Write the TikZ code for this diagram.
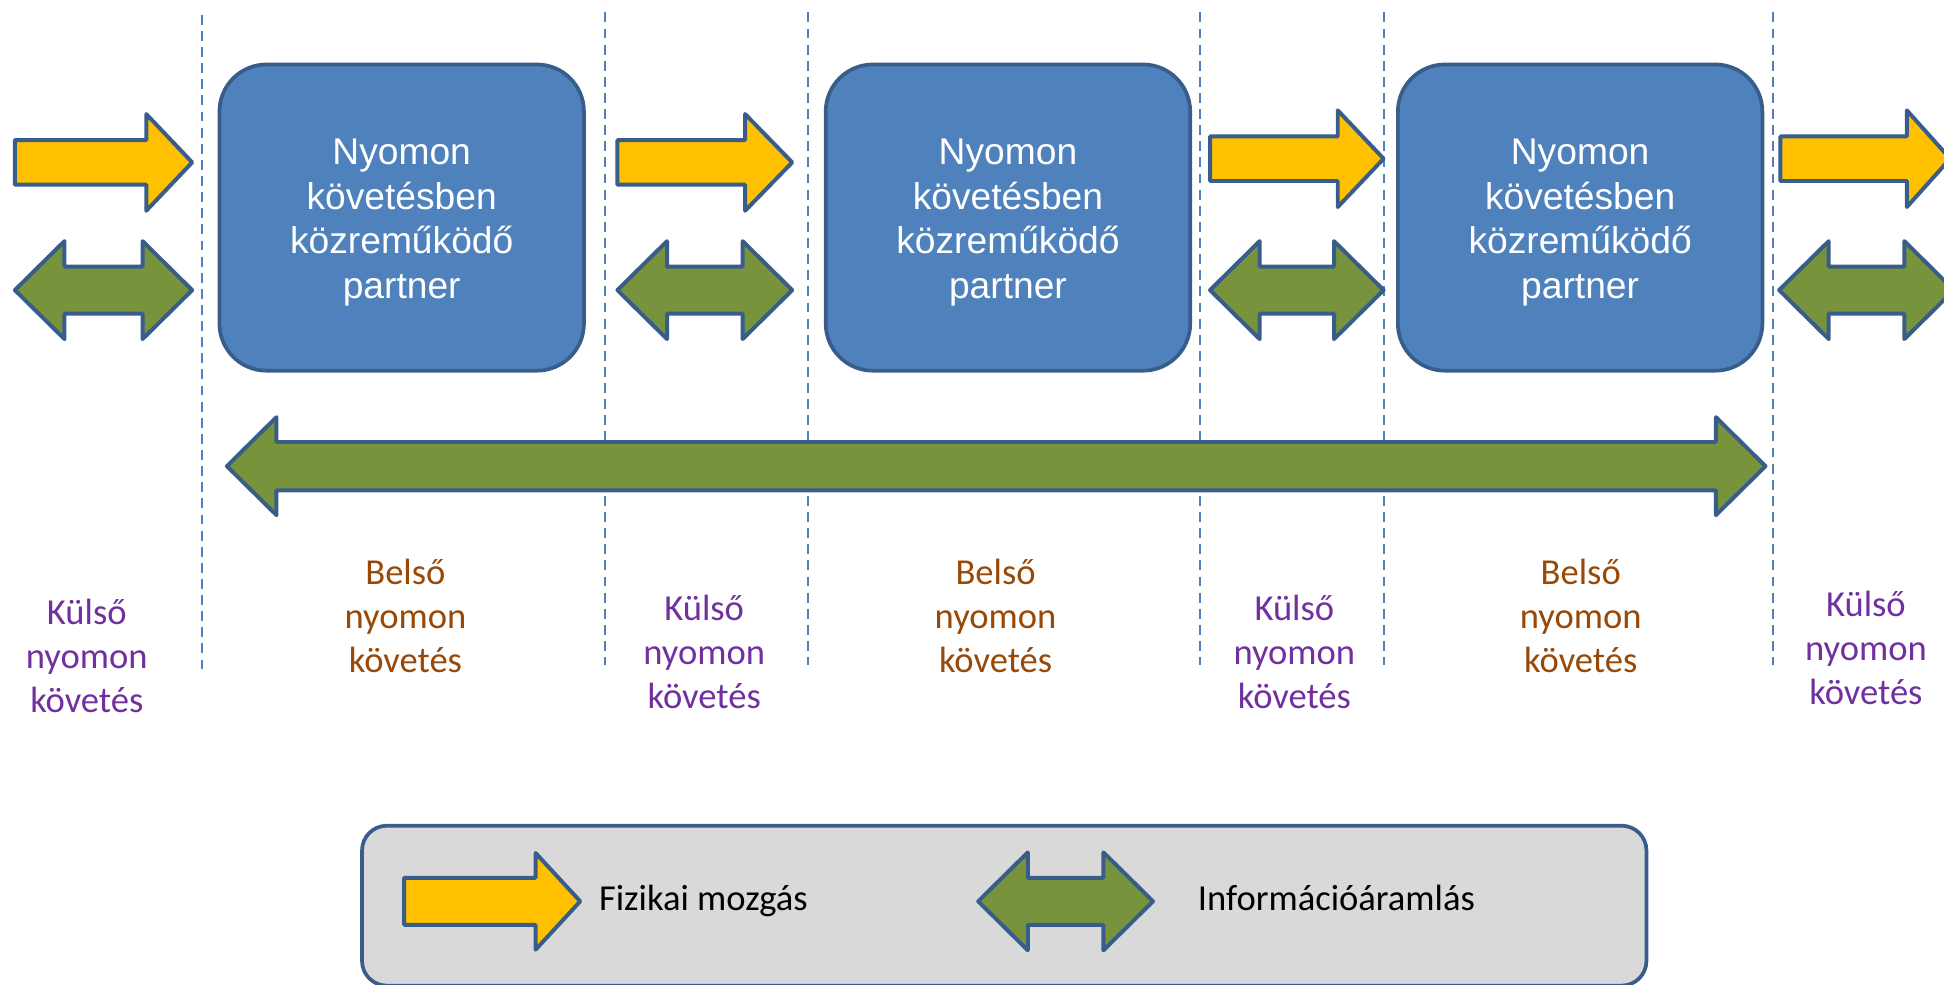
\documentclass[tikz,border=0pt]{standalone}
\usepackage{fontspec}
\setmainfont{Liberation Sans}
\newfontfamily\labelfont{Carlito}
\definecolor{boxblue}{HTML}{4F81BD}
\definecolor{edgeblue}{HTML}{385D8A}
\definecolor{moveyellow}{HTML}{FFC000}
\definecolor{infogreen}{HTML}{77933C}
\definecolor{extpurple}{HTML}{7030A0}
\definecolor{intbrown}{HTML}{984807}
\definecolor{legendgray}{HTML}{D9D9D9}

% block arrow pointing right: left x, tip x, centre y, head length, body half height
\newcommand{\movearrow}[5]{%
  \draw[blockarrow, fill=moveyellow]
    ({#1},{#3-#5}) -- ({#2-#4},{#3-#5}) -- ({#2-#4},{#3-39}) -- ({#2},{#3})
    -- ({#2-#4},{#3+39}) -- ({#2-#4},{#3+#5}) -- ({#1},{#3+#5}) -- cycle;}
% block arrow with two heads: left tip x, right tip x, centre y, head length, body half height
\newcommand{\infoarrow}[5]{%
  \draw[blockarrow, fill=infogreen]
    ({#1},{#3}) -- ({#1+#4},{#3-39.5}) -- ({#1+#4},{#3-#5}) -- ({#2-#4},{#3-#5})
    -- ({#2-#4},{#3-39.5}) -- ({#2},{#3}) -- ({#2-#4},{#3+39.5}) -- ({#2-#4},{#3+#5})
    -- ({#1+#4},{#3+#5}) -- ({#1+#4},{#3+39.5}) -- cycle;}

\tikzset{
  blockarrow/.style={draw=edgeblue, line width=3.2pt, line join=round},
  divider/.style={draw=boxblue, line width=1.6pt, dash pattern=on 8pt off 5pt},
  partner/.style={draw=edgeblue, fill=boxblue, line width=3pt, rounded corners=38pt,
    minimum width=294pt, minimum height=247pt, inner sep=0pt},
  partnertext/.style={text=white, align=center, inner sep=0pt,
    font=\fontsize{30}{36}\selectfont},
  extlabel/.style={align=center, text=extpurple, inner sep=0pt,
    font=\labelfont\fontsize{29.5}{35.5}\selectfont},
  intlabel/.style={align=center, text=intbrown, inner sep=0pt,
    font=\labelfont\fontsize{29.5}{35.5}\selectfont},
  legendtext/.style={anchor=west, inner sep=0pt, text=black,
    font=\labelfont\fontsize{29.5}{35.5}\selectfont},
}

\begin{document}
\begin{tikzpicture}[x=1pt, y=-1pt]
\useasboundingbox (0,0) rectangle (1568,794);
\clip (0,0) rectangle (1568,794);

% dashed section dividers
\draw[divider] (163,12) -- (163,543);
\foreach \xx in {488,652,968,1116,1430}
  \draw[divider] (\xx,10) -- (\xx,536);

% partners in the chain
\node[partner] (p1) at (324,175.5) {};
\node[partner] (p2) at (813,175.5) {};
\node[partner] (p3) at (1274.5,175.5) {};
\foreach \p in {p1,p2,p3}
  \node[partnertext] (\p-text) at ([yshift=-4pt]\p.center)
    {Nyomon\\követésben\\közreműködő\\partner};

% physical movement between partners
\movearrow{12}{155}{131}{37}{18}
\movearrow{498}{639}{131}{38}{18}
\movearrow{976}{1116}{128}{37}{18}
\movearrow{1436}{1573}{128}{35}{18}

% information flow between partners
\infoarrow{12}{155}{234}{40}{19}
\infoarrow{498}{639}{234}{40}{19}
\infoarrow{976}{1116}{234}{40}{19}
\infoarrow{1435}{1576}{234}{40}{19}

% information flow across the whole chain
\infoarrow{183}{1424}{376}{40}{19.5}

% section labels
\node[extlabel] (e1) at (70,529) {Külső\\nyomon\\követés};
\node[intlabel] (i1) at (327,497) {Belső\\nyomon\\követés};
\node[extlabel] (e2) at (568,526) {Külső\\nyomon\\követés};
\node[intlabel] (i2) at (803,497) {Belső\\nyomon\\követés};
\node[extlabel] (e3) at (1044,526) {Külső\\nyomon\\követés};
\node[intlabel] (i3) at (1275,497) {Belső\\nyomon\\követés};
\node[extlabel] (e4) at (1505,523) {Külső\\nyomon\\követés};

% legend
\draw[draw=edgeblue, fill=legendgray, line width=3pt, rounded corners=20pt]
  (292,666) rectangle (1328,795);
\movearrow{326}{468}{727}{36}{19}
\node[legendtext] (lmove) at (483,727) {Fizikai mozgás};
\infoarrow{789}{930}{727}{40}{19}
\node[legendtext] (linfo) at (966,724) {Információáramlás};
\end{tikzpicture}
\end{document}
